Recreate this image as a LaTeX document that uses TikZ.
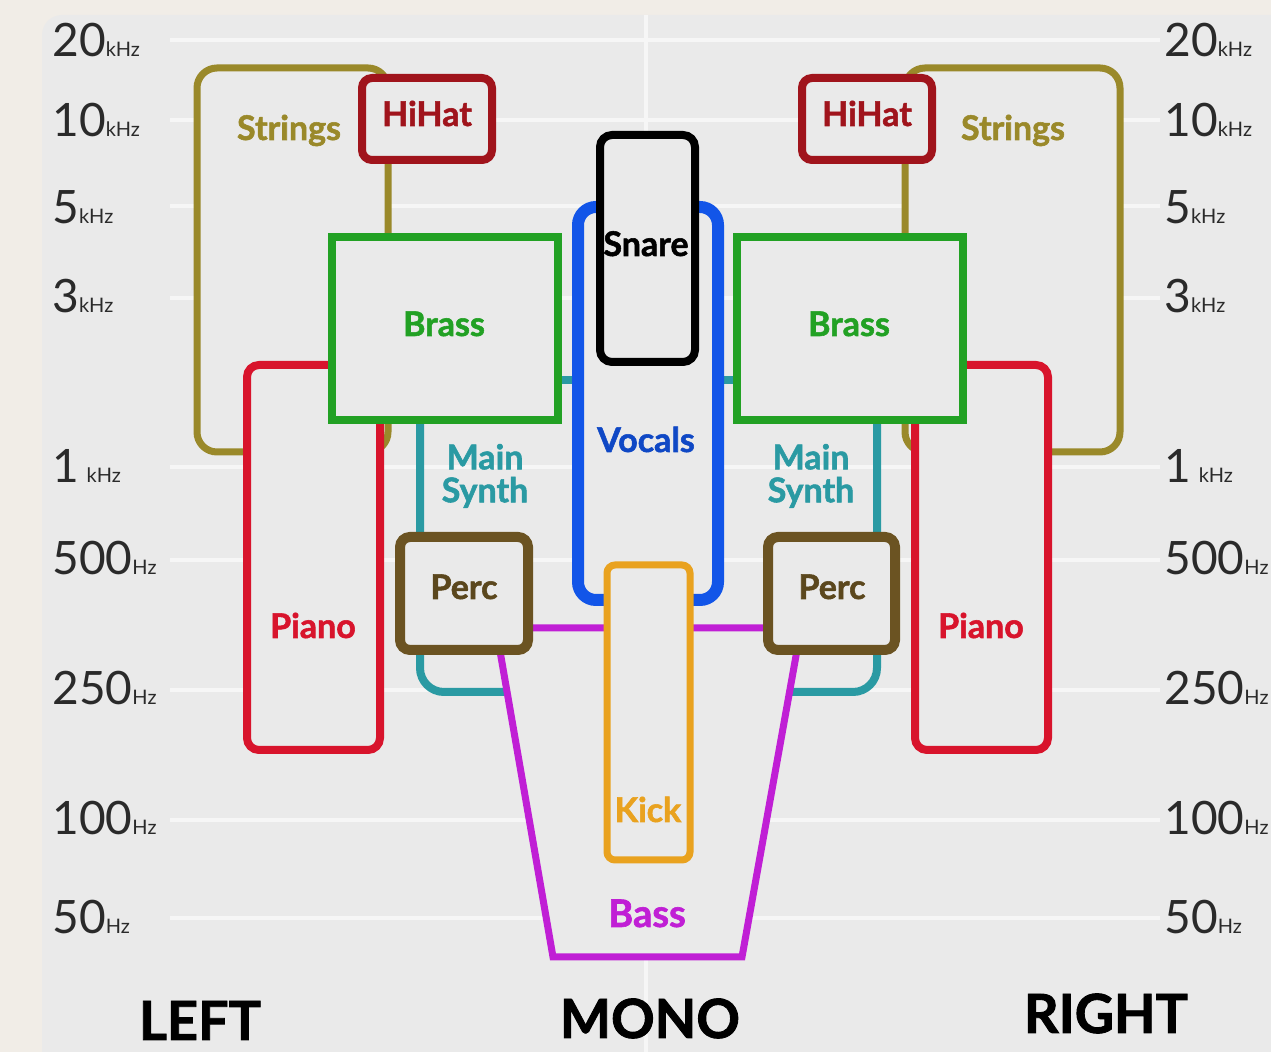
\documentclass[tikz,border=0pt]{standalone}
\usepackage{fontspec}
\setmainfont{Lato}
\newfontfamily\heavyfont{Lato}[BoldFeatures={FakeBold=1.6}]
\definecolor{outerbg}{HTML}{F1EDE7}
\definecolor{panel}{HTML}{EAEAEA}
\definecolor{gridc}{HTML}{F6F6F6}
\definecolor{axisc}{HTML}{2A2A2A}
\definecolor{strc}{HTML}{9A892A}
\definecolor{hihc}{HTML}{A0141C}
\definecolor{brassc}{HTML}{22A124}
\definecolor{vocc}{HTML}{1255E8}
\definecolor{pianoc}{HTML}{D8142C}
\definecolor{synthc}{HTML}{2A9AA3}
\definecolor{percc}{HTML}{6B5322}
\definecolor{kickc}{HTML}{E9A21F}
\definecolor{bassc}{HTML}{C01FD5}
\newcommand\fqlabel[2]{{\fontsize{23}{23}\selectfont #1}{\fontsize{10}{10}\selectfont #2}}
\begin{document}
\begin{tikzpicture}[x=0.5pt,y=-0.5pt,
  gridline/.style={gridc, line width=1.6pt},
  part/.style={line width=4pt, fill=panel, rounded corners=6pt},
  synth/.style={synthc, line width=4pt},
  lbl/.style={font=\heavyfont\fontsize{17}{16.5}\selectfont\bfseries, align=center, inner sep=0pt},
  axis/.style={text=axisc, inner sep=0pt},
  side/.style={font=\heavyfont\fontsize{27}{27}\selectfont\bfseries, inner sep=0pt}]
\useasboundingbox (0,0) rectangle (1271,1052);
% page and chart panel
\fill[outerbg] (0,0) rectangle (1271,1052);
\fill[panel, rounded corners=10pt] (42,15) rectangle (1300,1100);
% frequency grid
\foreach \y in {40,120,206,298,467,560,690,820,918}
  \draw[gridline] (170,\y) -- (1160,\y);
\draw[gridline] (646,15) -- (646,1052);
% frequency scale, both sides
\foreach \y/\n/\u/\k in {57/20/kHz/a,137/10/kHz/b,224/5/kHz/c,313/3/kHz/d,483/1\,/kHz/e,575/500/Hz/f,705/250/Hz/g,835/100/Hz/h,934/50/Hz/i}{
  \node[axis, anchor=base west] (fl\k) at (52,\y) {\fqlabel{\n}{\u}};
  \node[axis, anchor=base west] (fr\k) at (1164,\y) {\fqlabel{\n}{\u}};
}
% strings
\draw[part, draw=strc, line width=3.5pt, rounded corners=10pt] (197,68) rectangle (388,452);
\draw[part, draw=strc, line width=3.5pt, rounded corners=10pt] (905,68) rectangle (1120,452);
% piano
\draw[part, draw=pianoc] (247,365) rectangle (380,750);
\draw[part, draw=pianoc] (915,365) rectangle (1048,750);
% hihat
\draw[part, draw=hihc, rounded corners=5pt] (362,78) rectangle (492,160);
\draw[part, draw=hihc, rounded corners=5pt] (802,78) rectangle (932,160);
% main synth
\draw[synth] (556,380) -- (580,380);
\draw[synth, rounded corners=12pt] (420,400) -- (420,692) -- (515,692);
\draw[synth] (716,380) -- (739,380);
\draw[synth, rounded corners=12pt] (877,400) -- (877,692) -- (782,692);
% brass
\draw[part, draw=brassc, sharp corners] (332,237) rectangle (558,420);
\draw[part, draw=brassc, sharp corners] (737,237) rectangle (963,420);
% vocals and snare
\draw[part, draw=vocc, line width=6pt, rounded corners=9pt] (578,207) rectangle (718,600);
\draw[part, draw=black, rounded corners=6pt] (600,135) rectangle (695,362);
% bass
\draw[bassc, line width=3.5pt, fill=panel, line join=miter] (496,628) -- (553,957) -- (742,957) -- (801,628) -- cycle;
% percussion and kick
\draw[part, draw=percc, line width=5pt, rounded corners=5pt] (400,537) rectangle (528,650);
\draw[part, draw=percc, line width=5pt, rounded corners=5pt] (768,537) rectangle (895,650);
\draw[part, draw=kickc, line width=3.5pt, rounded corners=4pt] (607,565) rectangle (690,860);
% instrument labels
\node[lbl, text=strc, anchor=base] (tstrL) at (289,140) {Strings};
\node[lbl, text=strc, anchor=base] (tstrR) at (1013,140) {Strings};
\node[lbl, text=hihc, anchor=base] (thhL) at (427,126) {HiHat};
\node[lbl, text=hihc, anchor=base] (thhR) at (867,126) {HiHat};
\node[lbl, text=brassc, anchor=base] (tbrL) at (444,336) {Brass};
\node[lbl, text=brassc, anchor=base] (tbrR) at (849,336) {Brass};
\node[lbl, text=black, anchor=base] (tsn) at (646,256) {Snare};
\node[lbl, text=vocc!85!black, anchor=base] (tvo) at (646,452) {Vocals};
\node[lbl, text=synthc] (tsyL) at (485,476) {Main\\Synth};
\node[lbl, text=synthc] (tsyR) at (811,476) {Main\\Synth};
\node[lbl, text=pianoc, anchor=base] (tpiL) at (313,638) {Piano};
\node[lbl, text=pianoc, anchor=base] (tpiR) at (981,638) {Piano};
\node[lbl, text=percc!85!black, anchor=base] (tpeL) at (464,599) {Perc};
\node[lbl, text=percc!85!black, anchor=base] (tpeR) at (832,599) {Perc};
\node[lbl, text=kickc, anchor=base] (tki) at (648,822) {Kick};
\node[lbl, text=bassc, anchor=base, font=\heavyfont\fontsize{19}{19}\selectfont\bfseries] (tba) at (647,927) {Bass};
% stereo positions
\node[side, anchor=base] (left) at (200,1040) {LEFT};
\node[side, anchor=base] (mono) at (650,1038) {MONO};
\node[side, anchor=base] (right) at (1106,1033) {RIGHT};
\end{tikzpicture}
\end{document}
